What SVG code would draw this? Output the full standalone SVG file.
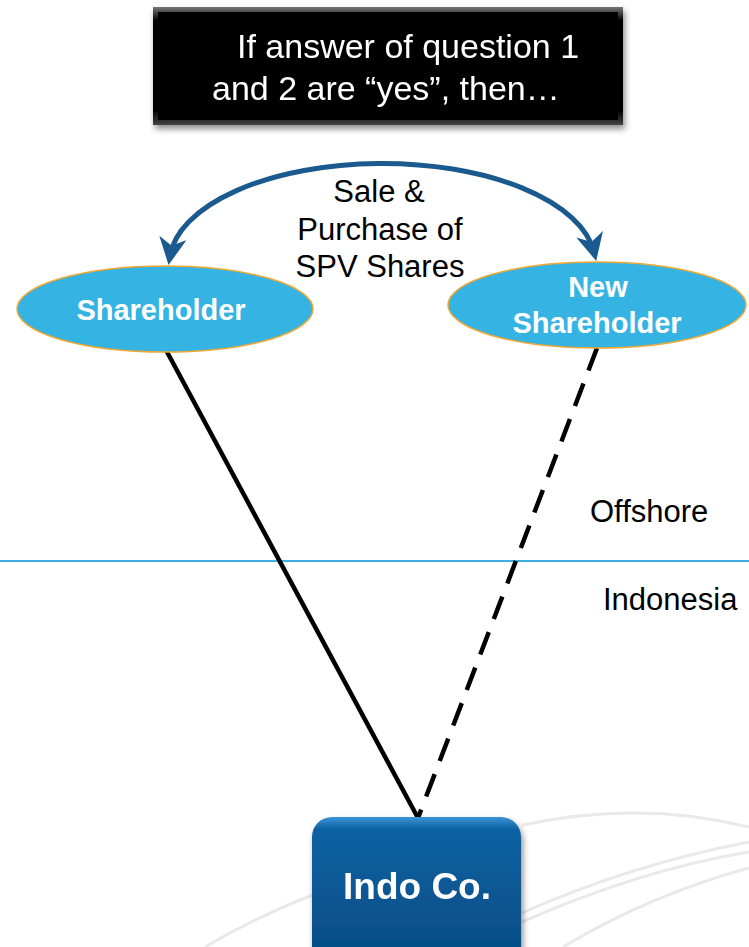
<svg xmlns="http://www.w3.org/2000/svg" width="749" height="947" viewBox="0 0 749 947">
<defs>
<style>
.lbl{font-family:"Liberation Sans",Arial,sans-serif;fill:#000;}
.node{font-family:"Liberation Sans",Arial,sans-serif;font-weight:bold;fill:#fff;text-anchor:middle;}
.ell{fill:#35B4E3;stroke:#EFA834;stroke-width:1.5;}
.swoosh{fill:none;stroke:#E8E9E8;stroke-width:3;}
</style>
<linearGradient id="indo" x1="0" y1="0" x2="0" y2="1">
<stop offset="0" stop-color="#3C93D6"/>
<stop offset="0.08" stop-color="#0C62A3"/>
<stop offset="1" stop-color="#054A82"/>
</linearGradient>
<linearGradient id="bev" x1="0" y1="0" x2="0" y2="1">
<stop offset="0" stop-color="#777"/>
<stop offset="0.12" stop-color="#000"/>
<stop offset="0.88" stop-color="#000"/>
<stop offset="1" stop-color="#444"/>
</linearGradient>
<filter id="sh" x="-10%" y="-10%" width="125%" height="130%">
<feGaussianBlur in="SourceAlpha" stdDeviation="3"/>
<feOffset dx="2" dy="4" result="b"/>
<feComponentTransfer><feFuncA type="linear" slope="0.45"/></feComponentTransfer>
<feMerge><feMergeNode/><feMergeNode in="SourceGraphic"/></feMerge>
</filter>
<marker id="chev" viewBox="0 0 12 12" refX="8" refY="6" markerWidth="5.5" markerHeight="5.5" orient="auto-start-reverse" markerUnits="strokeWidth">
<path d="M0,0 L12,6 L0,12 L3.5,6 z" fill="#1B5A8E"/>
</marker>
</defs>
<rect width="749" height="947" fill="#fff"/>
<g id="background">
<path class="swoosh" d="M522,825 Q640,800 749,827"/>
<path class="swoosh" d="M205,947 Q260,915 313,895 M522,913 Q630,865 749,842"/>
<path class="swoosh" d="M522,922 Q640,870 749,852"/>
<path class="swoosh" d="M563,947 Q650,895 749,868"/>
</g>
<g id="divider">
<line x1="0" y1="561" x2="749" y2="561" stroke="#3AAFE0" stroke-width="2"/>
<text class="lbl" x="590" y="522" font-size="31">Offshore</text>
<text class="lbl" x="603" y="610" font-size="31">Indonesia</text>
</g>
<g id="note" filter="url(#sh)">
<rect x="153" y="7" width="470" height="118" fill="url(#bev)"/>
<rect x="158" y="12" width="460" height="108" fill="#000"/>
<text class="lbl" font-size="34" style="fill:#fff"><tspan x="237" y="58">If answer of question 1</tspan><tspan x="212" y="100">and 2 are “yes”, then…</tspan></text>
</g>
<g id="connectors">
<path d="M170,256 A213 100 0 0 1 594,252" fill="none" stroke="#1B5A8E" stroke-width="5" marker-start="url(#chev)" marker-end="url(#chev)"/>
<line x1="166" y1="350" x2="418" y2="818" stroke="#000" stroke-width="4.5"/>
<line x1="597" y1="348" x2="418" y2="818" stroke="#000" stroke-width="4.5" stroke-dasharray="24 14"/>
<text class="lbl" font-size="31" text-anchor="middle"><tspan x="379" y="202">Sale &amp;</tspan><tspan x="380" y="240">Purchase of</tspan><tspan x="380" y="277">SPV Shares</tspan></text>
</g>
<g id="shareholder">
<ellipse class="ell" cx="165" cy="309" rx="148" ry="43"/>
<text class="node" x="161" y="320" font-size="29">Shareholder</text>
</g>
<g id="new-shareholder">
<ellipse class="ell" cx="597" cy="305" rx="149" ry="43"/>
<text class="node" x="598" y="297" font-size="29">New</text>
<text class="node" x="597" y="333" font-size="29">Shareholder</text>
</g>
<g id="indo-co" filter="url(#sh)">
<rect x="312" y="817" width="209" height="150" rx="20" fill="url(#indo)"/>
<text class="node" x="417" y="899" font-size="37">Indo Co.</text>
</g>
</svg>
